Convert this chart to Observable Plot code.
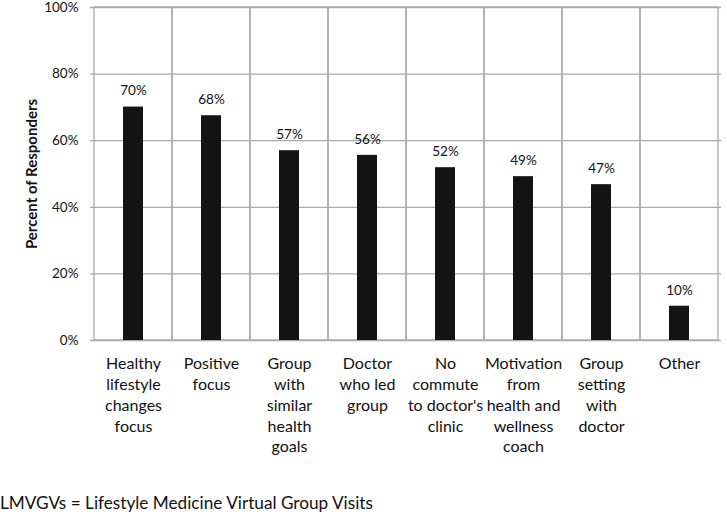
<!DOCTYPE html>
<html>
<head>
<meta charset="utf-8">
<script src="https://cdn.jsdelivr.net/npm/d3@7"></script>
<script src="https://cdn.jsdelivr.net/npm/@observablehq/plot@0.6"></script>
<style>
  html, body { margin: 0; padding: 0; background: #fff; }
  #chart svg { display: block; }
  #caption { font-family: Lato, "Open Sans", sans-serif; font-size: 17.2px; line-height: 20px; color: #111; margin: 11px 0 0 0; padding-left: 0; }
</style>
</head>
<body>
<div id="chart"></div>
<div id="caption">LMVGVs = Lifestyle Medicine Virtual Group Visits</div>
<script>
const categories = [
  "Healthy lifestyle changes focus",
  "Positive focus",
  "Group with similar health goals",
  "Doctor who led group",
  "No commute to doctor's clinic",
  "Motivation from health and wellness coach",
  "Group setting with doctor",
  "Other"
];
const categoryLabels = [
  "Healthy\nlifestyle\nchanges\nfocus",
  "Positive\nfocus",
  "Group\nwith\nsimilar\nhealth\ngoals",
  "Doctor\nwho led\ngroup",
  "No\ncommute\nto doctor's\nclinic",
  "Motivation\nfrom\nhealth and\nwellness\ncoach",
  "Group\nsetting\nwith\ndoctor",
  "Other"
];
const percents = [70.1, 67.5, 57.0, 55.6, 51.9, 49.2, 46.8, 10.3];
const valueLabels = ["70%", "68%", "57%", "56%", "52%", "49%", "47%", "10%"];
const yTicks = [0, 20, 40, 60, 80, 100];

const data = categories.map((c, i) => ({category: c, value: percents[i], label: valueLabels[i]}));
const labelOf = new Map(categories.map((c, i) => [c, categoryLabels[i]]));

const font = "Lato, 'Open Sans', sans-serif";
const grid = "#a9a9a9";

const chart = Plot.plot({
  width: 727,
  height: 482,
  marginLeft: 90,
  marginRight: 6,
  marginTop: 7,
  marginBottom: 142,
  style: {fontFamily: font, color: "#111", background: "#fff"},
  x: {domain: categories, padding: 0, axis: null},
  y: {domain: [0, 100], axis: null},
  marks: [
    Plot.ruleY(yTicks, {stroke: grid, strokeWidth: 1.3}),
    Plot.cell(categories, {x: d => d, fill: "none", stroke: grid, strokeWidth: 1.3}),
    Plot.barY(data, {x: "category", y: "value", fill: "#141414", insetLeft: 29, insetRight: 29}),
    Plot.text(data, {x: "category", y: "value", text: "label", dy: -16, fontSize: 13.5, fill: "#111"}),
    Plot.axisY({ticks: yTicks, tickFormat: d => d + "%", tickSize: 0, tickPadding: 12, fontSize: 13.5, label: null}),
    Plot.axisX({tickFormat: d => labelOf.get(d), tickSize: 0, tickPadding: 14, fontSize: 16, lineHeight: 1.3, label: null}),
    Plot.text(["Percent of Responders"], {frameAnchor: "left", textAnchor: "middle", dx: -58, rotate: -90, fontWeight: "bold", fontSize: 15, fill: "#111"})
  ]
});
document.getElementById("chart").appendChild(chart);
</script>
</body>
</html>
